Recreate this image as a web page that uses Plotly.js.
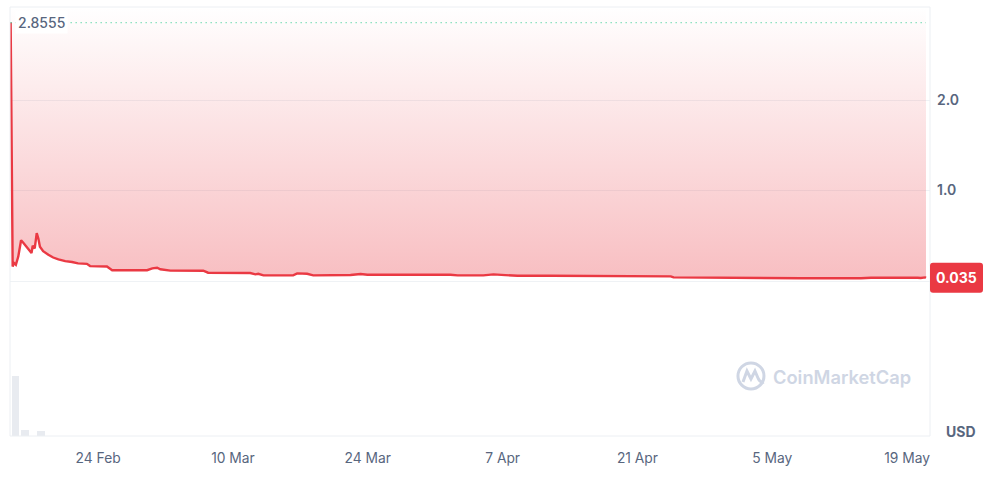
<!DOCTYPE html>
<html><head><meta charset="utf-8">
<script src="https://cdn.plot.ly/plotly-3.0.1.min.js"></script>
<style>html,body{margin:0;padding:0;background:#fff;}#chart{width:994px;height:498px;}</style>
</head><body><div id="chart"></div>
<script>
const priceDates = [
'2025-02-14 22:00','2025-02-15 03:00','2025-02-15 06:00','2025-02-15 11:00','2025-02-15 17:00',
'2025-02-16 00:00','2025-02-16 06:00','2025-02-16 12:00','2025-02-16 20:00','2025-02-17 02:00',
'2025-02-17 05:00','2025-02-17 10:00','2025-02-17 15:00','2025-02-17 19:00','2025-02-17 23:00',
'2025-02-18 07:00','2025-02-18 20:00','2025-02-19 08:00','2025-02-19 21:00','2025-02-20 14:00',
'2025-02-21 07:00','2025-02-21 22:00','2025-02-22 20:00','2025-02-23 04:00','2025-02-24 22:00',
'2025-02-25 11:00','2025-03-01 02:00','2025-03-01 15:00','2025-03-02 03:00','2025-03-02 11:00',
'2025-03-03 12:00','2025-03-06 22:00','2025-03-07 10:00','2025-03-11 19:00','2025-03-12 08:00',
'2025-03-12 15:00','2025-03-13 04:00','2025-03-16 06:00','2025-03-16 16:00','2025-03-17 17:00',
'2025-03-18 08:00','2025-03-22 05:00','2025-03-23 06:00','2025-03-23 23:00','2025-04-01 14:00',
'2025-04-02 08:00','2025-04-05 00:00','2025-04-06 01:00','2025-04-07 07:00','2025-04-08 13:00',
'2025-04-11 23:00','2025-04-17 04:00','2025-04-21 08:00','2025-04-24 11:00','2025-04-24 18:00',
'2025-04-28 15:00','2025-04-28 22:00','2025-05-07 23:00','2025-05-14 05:00','2025-05-15 06:00',
'2025-05-20 02:00','2025-05-20 10:00','2025-05-20 21:00','2025-05-20 23:00'
];
const priceValues = [
2.8555,0.16,0.20,0.18,0.27,
0.45,0.42,0.39,0.34,0.31,
0.39,0.36,0.53,0.47,0.38,
0.33,0.29,0.26,0.24,0.22,
0.21,0.195,0.19,0.165,0.16,
0.12,0.12,0.14,0.147,0.13,
0.115,0.114,0.092,0.088,0.074,
0.08,0.063,0.063,0.085,0.08,
0.063,0.066,0.077,0.07,0.07,
0.063,0.063,0.074,0.065,0.059,
0.058,0.054,0.052,0.052,0.04,
0.037,0.03,0.03,0.031,0.037,
0.037,0.033,0.04,0.035
];
const volumeDates = ['2025-02-15 10:00','2025-02-16 10:00','2025-02-18 02:00'];
const volumeValues = [58, 6, 5];
const xTickVals = ['2025-02-24','2025-03-10','2025-03-24','2025-04-07','2025-04-21','2025-05-05','2025-05-19'];
const xTickText = ['24 Feb','10 Mar','24 Mar','7 Apr','21 Apr','5 May','19 May'];
const yTickVals = [-1, 0, 1, 2];
const yTickText = ['', '', '1.0', '2.0'];
const currencyLabel = 'USD';
const watermarkText = 'CoinMarketCap';

const xRange = ['2025-02-14 20:24', '2025-05-21 09:00'];
const yRange = [-1.006, 3.028];
const highValue = Math.max(...priceValues);
const lastValue = priceValues[priceValues.length - 1];
const RED = '#ea3943';
const GREY = '#58667e';
const WM = 'rgb(207,214,228)';
const DAY = 86400000;

const topBoundary = {
  x: priceDates, y: priceDates.map(() => yRange[1]),
  type: 'scatter', mode: 'lines', line: {width: 0, color: 'rgba(0,0,0,0)'},
  hoverinfo: 'skip', xaxis: 'x', yaxis: 'y'
};
const priceTrace = {
  x: priceDates, y: priceValues, type: 'scatter', mode: 'lines',
  line: {color: RED, width: 2.4},
  fill: 'tonexty',
  fillgradient: {type: 'vertical', start: 0, stop: yRange[1],
    colorscale: [[0, 'rgba(234,57,67,0.33)'], [1, 'rgba(234,57,67,0.0)']]},
  xaxis: 'x', yaxis: 'y'
};
const volumeTrace = {
  x: volumeDates, y: volumeValues, type: 'bar', width: volumeDates.map(() => 0.8 * DAY),
  marker: {color: 'rgb(232,235,240)'}, xaxis: 'x', yaxis: 'y2', hoverinfo: 'skip'
};

const layout = {
  width: 994, height: 498,
  margin: {l: 10, r: 64, t: 7, b: 62},
  paper_bgcolor: '#fff', plot_bgcolor: '#fff',
  showlegend: false,
  font: {family: 'Inter, sans-serif', color: GREY},
  xaxis: {type: 'date', range: xRange, anchor: 'y2', tickvals: xTickVals, ticktext: xTickText,
    showgrid: false, zeroline: false, showline: false, ticks: '', ticklabelstandoff: 12,
    tickfont: {family: 'Inter, sans-serif', size: 13.8, color: GREY}},
  yaxis: {domain: [0.149, 1], range: yRange, side: 'right', anchor: 'x',
    tickvals: yTickVals, ticktext: yTickText, gridcolor: '#eff2f5', gridwidth: 1,
    zeroline: false, showline: false, ticks: '', ticklabelstandoff: 6,
    tickfont: {family: 'Inter, sans-serif', size: 14, color: GREY, weight: 600}},
  yaxis2: {domain: [0, 0.149], range: [0, Math.max(...volumeValues) * 1.07], anchor: 'x',
    showgrid: false, showticklabels: false, zeroline: false, showline: false},
  bargap: 0,
  shapes: [
    {type: 'rect', xref: 'paper', yref: 'paper', x0: 0, x1: 1, y0: 0, y1: 1,
      line: {color: '#eceff3', width: 1}, layer: 'above'},
    {type: 'line', xref: 'x', yref: 'y', x0: priceDates[0], x1: priceDates[priceDates.length - 1],
      y0: highValue, y1: highValue, line: {color: '#16c784', width: 1.3, dash: '1px,4px'}, opacity: 0.75},
    {type: 'path', xref: 'paper', xsizemode: 'pixel', xanchor: 1, yref: 'y', ysizemode: 'pixel', yanchor: lastValue,
      path: 'M 3,-15 L 50,-15 Q 53,-15 53,-12 L 53,12 Q 53,15 50,15 L 3,15 Q 0,15 0,12 L 0,-12 Q 0,-15 3,-15 Z',
      fillcolor: RED, line: {width: 0}, layer: 'above'},
    {type: 'circle', xref: 'paper', xsizemode: 'pixel', xanchor: 0.8054, x0: -13, x1: 13,
      yref: 'paper', ysizemode: 'pixel', yanchor: 0.1399, y0: -13, y1: 13,
      line: {color: WM, width: 3}},
    {type: 'path', xref: 'paper', xsizemode: 'pixel', xanchor: 0.8054,
      yref: 'paper', ysizemode: 'pixel', yanchor: 0.1399,
      path: 'M -8,-6 L -4,5 L 0,-3 L 4,5 L 7,-2 Q 9,-7 13,-6',
      line: {color: WM, width: 3}}
  ],
  annotations: [
    {xref: 'paper', x: 0, xanchor: 'left', xshift: 5, yref: 'y', y: highValue, yanchor: 'middle',
      text: highValue.toString(), showarrow: false, bgcolor: '#fff', borderpad: 2,
      font: {family: 'Inter, sans-serif', size: 14, color: GREY, weight: 500}},
    {xref: 'paper', x: 1, xanchor: 'center', xshift: 26.5, yref: 'y', y: lastValue, yanchor: 'middle',
      text: lastValue.toString(), showarrow: false,
      font: {family: 'Inter, sans-serif', size: 14, color: '#fff', weight: 700}},
    {xref: 'paper', x: 1, xanchor: 'center', xshift: 31, yref: 'paper', y: 0, yanchor: 'middle', yshift: 5,
      text: currencyLabel, showarrow: false,
      font: {family: 'Inter, sans-serif', size: 14, color: GREY, weight: 700}},
    {xref: 'paper', x: 0.8272, xanchor: 'left', yref: 'paper', y: 0.1375, yanchor: 'middle',
      text: watermarkText, showarrow: false,
      font: {family: 'Inter, sans-serif', size: 18.3, color: WM, weight: 600}}
  ]
};

Plotly.newPlot('chart', [topBoundary, priceTrace, volumeTrace], layout, {displayModeBar: false, staticPlot: true});
</script>
</body></html>
